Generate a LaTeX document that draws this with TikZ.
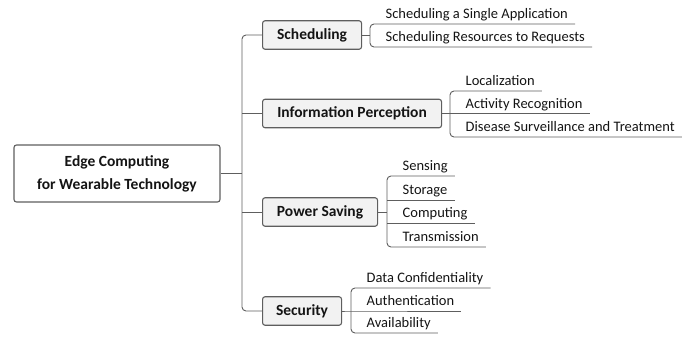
\documentclass[tikz,border=0pt]{standalone}
\usepackage{fontspec}
\setmainfont{Carlito}
\definecolor{linec}{HTML}{5E5E5E}
\definecolor{boxfill}{HTML}{F2F2F2}
\definecolor{txt}{HTML}{141414}
\begin{document}
\begin{tikzpicture}[x=1pt,y=-1pt,
  conn/.style={draw=linec, line width=0.9pt, rounded corners=4pt},
  rootbox/.style={draw=linec, line width=1.1pt, fill=white, rounded corners=2.5pt, align=center,
     font=\fontsize{15.5}{23}\selectfont\bfseries, text=txt, minimum width=206pt, minimum height=57pt, inner sep=0pt},
  topic/.style={draw=linec, line width=1.1pt, fill=boxfill, rounded corners=2.5pt, anchor=west,
     font=\fontsize{15.5}{18}\selectfont\bfseries, text=txt, minimum height=28.5pt, inner sep=0pt},
  leaf/.style={anchor=south west, inner xsep=0pt, inner ysep=5pt, text depth=0pt,
     font=\fontsize{14.5}{16}\selectfont, text=txt}
]
\useasboundingbox (0,0) rectangle (688,337);
% root
\node[rootbox] (root) at (117,173.5) {Edge Computing\\for Wearable Technology};
% topics
\node[topic, minimum width=99pt]  (sch) at (262,35)    {Scheduling};
\node[topic, minimum width=179pt] (inf) at (262,113.5) {Information Perception};
\node[topic, minimum width=115pt] (pow) at (262,212)   {Power Saving};
\node[topic, minimum width=79pt]  (sec) at (262,311)   {Security};
\coordinate (tj) at (242,173.5);
% trunk
\draw[conn] (root.east) -- (tj);
\draw[conn] (sch.west) -- (sch.west -| tj) -- (sec.west -| tj) -- (sec.west);
\draw[conn] (inf.west -| tj) -- (inf.west);
\draw[conn] (pow.west -| tj) -- (pow.west);
% leaves: Scheduling
\newcommand{\lf}[1]{\hspace*{15.5pt}#1\hspace*{7pt}}
\node[leaf] (s1) at (370,24) {\lf{Scheduling a Single Application}};
\node[leaf] (s2) at (370,47) {\lf{Scheduling Resources to Requests}};
\draw[conn] (sch.east) -- (sch.east -| s1.south west);
\draw[conn] (s1.south east) -- (s1.south west) -- (s2.south west) -- (s2.south east);
% Information perception
\node[leaf] (i1) at (450,91)  {\lf{Localization}};
\node[leaf] (i2) at (450,113.5) {\lf{Activity Recognition}};
\node[leaf] (i3) at (450,137) {\lf{Disease Surveillance and Treatment}};
\draw[conn] (inf.east) -- (i2.south west) -- (i2.south east);
\draw[conn] (i1.south east) -- (i1.south west) -- (i3.south west) -- (i3.south east);
% Power saving
\node[leaf] (p1) at (387,176) {\lf{Sensing}};
\node[leaf] (p2) at (387,200) {\lf{Storage}};
\node[leaf] (p3) at (387,223) {\lf{Computing}};
\node[leaf] (p4) at (387,247) {\lf{Transmission}};
\draw[conn] (pow.east) -- (pow.east -| p1.south west);
\draw[conn] (p1.south east) -- (p1.south west) -- (p4.south west) -- (p4.south east);
\draw[conn, rounded corners=0pt] (p2.south west) -- (p2.south east);
\draw[conn, rounded corners=0pt] (p3.south west) -- (p3.south east);
% Security
\node[leaf] (c1) at (351,288) {\lf{Data Confidentiality}};
\node[leaf] (c2) at (351,311) {\lf{Authentication}};
\node[leaf] (c3) at (351,333) {\lf{Availability}};
\draw[conn] (sec.east) -- (c2.south west) -- (c2.south east);
\draw[conn] (c1.south east) -- (c1.south west) -- (c3.south west) -- (c3.south east);
\end{tikzpicture}
\end{document}
